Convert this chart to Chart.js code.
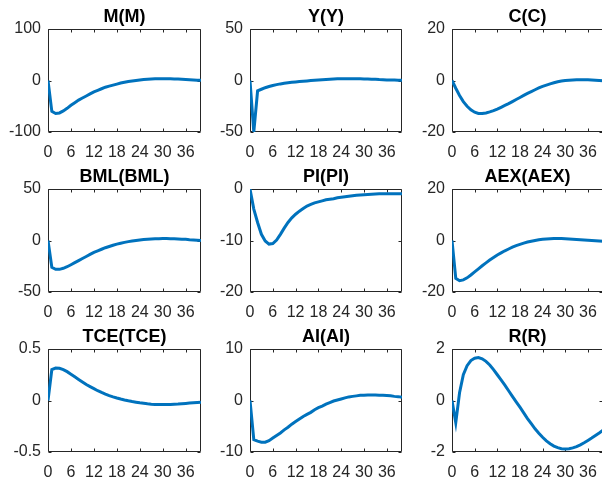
<!DOCTYPE html>
<html>
<head>
<meta charset="utf-8">
<script src="https://cdn.jsdelivr.net/npm/chart.js@4.4.1/dist/chart.umd.min.js"></script>
<style>
html, body { margin: 0; padding: 0; background: #fff; overflow: hidden; }
#wrap { position: relative; width: 602px; height: 486px; background: #fff; }
.cell { position: absolute; }
</style>
</head>
<body>
<div id="wrap"></div>
<script>
// --- 1. Data ---
const periods = [0,1,2,3,4,5,6,7,8,9,10,11,12,13,14,15,16,17,18,19,20,
                 21,22,23,24,25,26,27,28,29,30,31,32,33,34,35,36,37,38,39,40];
const xTicks = [0, 6, 12, 18, 24, 30, 36];

const titles = ['M(M)', 'Y(Y)', 'C(C)', 'BML(BML)', 'PI(PI)', 'AEX(AEX)', 'TCE(TCE)', 'AI(AI)', 'R(R)'];

const mResp = [0,-60,-64,-63,-59,-54,-48,-43,-38,-34,-30,-26,-22,-19,-16,-13,-11,-9,-7,-5,-3.5,
               -2,-1,0,1,2,2.5,3,3.3,3.5,3.5,3.4,3.2,3,2.7,2.3,1.9,1.5,1.1,0.7,0.3];
const yResp = [0,-50,-10,-8.5,-7,-5.8,-4.8,-4,-3.3,-2.7,-2.2,-1.8,-1.4,-1,-0.7,-0.4,-0.1,0.2,0.5,0.8,1,
               1.2,1.4,1.6,1.7,1.8,1.8,1.8,1.7,1.6,1.5,1.4,1.2,1.1,0.9,0.8,0.6,0.5,0.4,0.3,0.2];
const cResp = [0,-3,-5.8,-8.2,-10,-11.4,-12.3,-12.8,-12.8,-12.6,-12.2,-11.7,-11.1,-10.4,-9.7,-9,-8.2,-7.4,-6.6,-5.8,-5,
               -4.3,-3.6,-2.9,-2.3,-1.8,-1.3,-0.9,-0.5,-0.2,0,0.1,0.2,0.3,0.3,0.3,0.3,0.2,0.1,0,-0.1];
const bmlResp = [0,-26,-28,-28,-27,-25.5,-23.5,-21.5,-19.5,-17.5,-15.5,-13.5,-11.5,-10,-8.5,-7,-5.8,-4.6,-3.5,-2.6,-1.8,
                 -1.1,-0.5,0,0.5,0.9,1.2,1.5,1.7,1.8,1.9,1.9,1.8,1.7,1.5,1.3,1.1,0.8,0.6,0.3,0];
const piResp = [0,-3.9,-6.5,-8.8,-10.1,-10.7,-10.6,-9.9,-8.8,-7.6,-6.5,-5.6,-4.9,-4.3,-3.8,-3.3,-3,-2.7,-2.5,-2.3,-2.1,
                -2,-1.9,-1.7,-1.6,-1.5,-1.4,-1.3,-1.2,-1.15,-1.1,-1.05,-1,-0.95,-0.9,-0.9,-0.9,-0.9,-0.9,-0.9,-0.9];
const aexResp = [0,-14.7,-15.6,-15.3,-14.5,-13.4,-12.2,-11,-9.8,-8.7,-7.6,-6.6,-5.6,-4.8,-4,-3.3,-2.6,-2,-1.5,-1,-0.6,
                 -0.3,0,0.3,0.5,0.6,0.7,0.8,0.8,0.8,0.7,0.6,0.5,0.4,0.3,0.2,0.1,0,-0.1,-0.2,-0.3];
const tceResp = [0,0.30,0.315,0.313,0.30,0.28,0.255,0.23,0.205,0.18,0.155,0.135,0.115,0.095,0.078,0.062,0.048,0.035,0.024,0.014,0.005,
                 -0.003,-0.01,-0.016,-0.022,-0.027,-0.032,-0.036,-0.038,-0.039,-0.04,-0.039,-0.038,-0.036,-0.034,-0.031,-0.028,-0.025,-0.022,-0.019,-0.016];
const aiResp = [0,-7.6,-7.9,-8.1,-8.1,-7.8,-7.3,-6.8,-6.3,-5.7,-5.2,-4.6,-4.1,-3.6,-3.1,-2.7,-2.3,-1.8,-1.4,-1.1,-0.7,
                -0.4,-0.1,0.1,0.3,0.5,0.7,0.8,0.9,1,1,1.05,1.05,1.05,1.0,1.0,0.95,0.9,0.8,0.75,0.65];
const rResp = [0,-0.86,0.3,1.0,1.35,1.55,1.64,1.67,1.62,1.52,1.38,1.2,1.0,0.8,0.6,0.38,0.16,-0.05,-0.26,-0.48,-0.7,
               -0.9,-1.1,-1.27,-1.43,-1.57,-1.68,-1.77,-1.83,-1.87,-1.88,-1.87,-1.84,-1.79,-1.72,-1.64,-1.55,-1.46,-1.36,-1.26,-1.15];

const series = [mResp, yResp, cResp, bmlResp, piResp, aexResp, tceResp, aiResp, rResp];

const yTickSets = [
  [-100, 0, 100], [-50, 0, 50], [-20, 0, 20],
  [-50, 0, 50],   [-20, -10, 0], [-20, 0, 20],
  [-0.5, 0, 0.5], [-10, 0, 10], [-2, 0, 2]
];

// --- 2. Layout (subplot grid) ---
const colLeft = [48, 250, 452];
const colWidth = [153, 152, 151];
const rowTop = [29, 189, 349];
const plotH = 103;
const axisW = 48;   // room for y tick labels
const axisH = 30;   // room for x tick labels
const titleH = 29;  // room above the plot box

const lineColor = '#0072BD';
const axisColor = '#262626';
const fontFam = '"Liberation Sans", Arial, Helvetica, sans-serif';

// box + inward tick marks like a MATLAB axes, title centred over the box
const matlabBox = {
  id: 'matlabBox',
  beforeDatasetsDraw(chart, args, opts) {
    const { ctx, chartArea: a, scales: { x, y } } = chart;
    const L = Math.round(a.left) + 0.5, R = Math.round(a.right) - 0.5;
    const T = Math.round(a.top) + 0.5, B = Math.round(a.bottom) - 0.5;
    const tl = 3;
    ctx.save();
    ctx.strokeStyle = axisColor;
    ctx.lineWidth = 1;
    ctx.beginPath();
    ctx.rect(L, T, R - L, B - T);
    x.ticks.forEach(t => {
      const px = Math.round(x.getPixelForValue(t.value)) + 0.5;
      ctx.moveTo(px, B); ctx.lineTo(px, B - tl);
      ctx.moveTo(px, T); ctx.lineTo(px, T + tl);
    });
    y.ticks.forEach(t => {
      const py = Math.round(y.getPixelForValue(t.value)) + 0.5;
      ctx.moveTo(L, py); ctx.lineTo(L + tl, py);
      ctx.moveTo(R, py); ctx.lineTo(R - tl, py);
    });
    ctx.stroke();

    // title
    ctx.fillStyle = '#000';
    ctx.font = 'bold 18px ' + fontFam;
    ctx.textAlign = 'center';
    ctx.textBaseline = 'middle';
    ctx.fillText(opts.text, (a.left + a.right) / 2, a.top - 12);
    ctx.restore();
  }
};

const wrap = document.getElementById('wrap');

series.forEach((vals, i) => {
  const r = Math.floor(i / 3), c = i % 3;
  const yt = yTickSets[i];
  const w = axisW + colWidth[c] + 2;
  const h = titleH + plotH + axisH;

  const div = document.createElement('div');
  div.className = 'cell';
  div.style.left = (colLeft[c] - axisW) + 'px';
  div.style.top = (rowTop[r] - titleH) + 'px';
  div.style.width = w + 'px';
  div.style.height = h + 'px';
  const cv = document.createElement('canvas');
  cv.width = w; cv.height = h;
  cv.style.width = w + 'px'; cv.style.height = h + 'px';
  div.appendChild(cv);
  wrap.appendChild(div);

  new Chart(cv.getContext('2d'), {
    type: 'line',
    data: {
      datasets: [{
        data: periods.map((p, k) => ({ x: p, y: vals[k] })),
        borderColor: lineColor,
        borderWidth: 3,
        pointRadius: 0,
        tension: 0,
        fill: false
      }]
    },
    options: {
      responsive: false,
      animation: false,
      events: [],
      layout: { padding: { left: 0, right: 2, top: titleH, bottom: 0 } },
      plugins: {
        legend: { display: false },
        tooltip: { enabled: false },
        title: { display: false },
        matlabBox: { text: titles[i] }
      },
      scales: {
        x: {
          type: 'linear',
          min: 0, max: 40,
          grid: { display: false, drawTicks: false },
          border: { display: false },
          afterBuildTicks: s => { s.ticks = xTicks.map(v => ({ value: v })); },
          afterFit: s => { s.height = axisH; s.paddingLeft = 0; s.paddingRight = 0; },
          ticks: {
            color: axisColor, padding: 11, maxRotation: 0, autoSkip: false,
            font: { family: fontFam, size: 16 },
            callback: v => String(v)
          }
        },
        y: {
          min: yt[0], max: yt[yt.length - 1],
          grid: { display: false, drawTicks: false },
          border: { display: false },
          afterBuildTicks: s => { s.ticks = yt.map(v => ({ value: v })); },
          afterFit: s => { s.width = axisW; s.paddingTop = 0; s.paddingBottom = 0; },
          ticks: {
            color: axisColor, padding: 7,
            font: { family: fontFam, size: 16 },
            callback: v => String(v)
          }
        }
      }
    },
    plugins: [matlabBox]
  });
});
</script>
</body>
</html>
